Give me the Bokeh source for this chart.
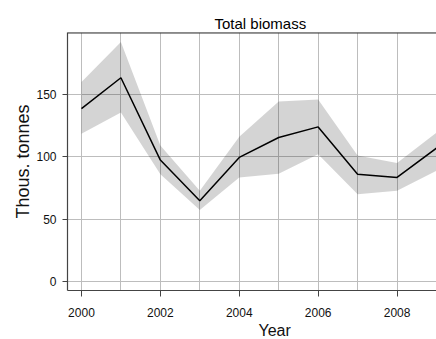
from bokeh.plotting import figure
from bokeh.models import Range1d, FixedTicker, Span, Title
from bokeh.embed import file_html
from bokeh.resources import INLINE

years = [2000, 2001, 2002, 2003, 2004, 2005, 2006, 2007, 2008, 2009]
biomass = [138.6, 163.4, 97.4, 64.8, 99.5, 115.5, 124.0, 86.0, 83.5, 107.0]
upper = [160.0, 192.0, 109.0, 72.8, 116.0, 144.3, 145.9, 101.0, 95.0, 119.5]
lower = [118.6, 135.5, 86.0, 57.3, 83.4, 86.5, 102.0, 70.0, 72.8, 88.8]

x_ticks = [2000, 2002, 2004, 2006, 2008]
y_ticks = [0, 50, 100, 150]
grid_years = [2000, 2001, 2002, 2003, 2004, 2005, 2006, 2007, 2008, 2009]
grid_levels = [0, 50, 100, 150, 200]

FONT = "Liberation Sans"

p = figure(width=436, height=339, output_backend="svg", toolbar_location=None,
           x_range=Range1d(1999.646, 2009.0), y_range=Range1d(-7.2, 199.7),
           min_border_left=67, min_border_right=0, min_border_top=32,
           min_border_bottom=49)

p.title.text = "Total biomass"
p.title.align = "left"
p.title.offset = 147
p.title.text_font = FONT
p.title.text_font_size = "15px"
p.title.text_font_style = "normal"
p.title.text_color = "#000000"
p.title.standoff = 2

p.outline_line_color = None
p.background_fill_color = "white"
p.border_fill_color = "white"

p.xgrid.ticker = FixedTicker(ticks=grid_years)
p.ygrid.ticker = FixedTicker(ticks=grid_levels)
p.grid.grid_line_color = "#bdbdbd"
p.grid.grid_line_width = 1

p.varea(x=years, y1=lower, y2=upper, fill_color="black", fill_alpha=0.17)
p.line(years, biomass, line_color="black", line_width=1.5)

p.add_layout(Span(location=199.7, dimension="width", line_color="#333333", line_width=2))

for ax in (p.xaxis[0], p.yaxis[0]):
    ax.axis_line_color = "#444444"
    ax.axis_line_width = 1.2
    ax.major_tick_line_color = "#444444"
    ax.major_tick_in = 0
    ax.minor_tick_line_color = None
    ax.major_label_text_font = FONT
    ax.major_label_text_font_size = "12px"
    ax.major_label_text_color = "#111111"

p.xaxis.ticker = FixedTicker(ticks=x_ticks)
p.xaxis.major_tick_out = 6
p.xaxis.major_label_standoff = 11

p.yaxis.ticker = FixedTicker(ticks=y_ticks)
p.yaxis.major_tick_out = 5
p.yaxis.major_label_standoff = 6
p.yaxis.axis_label = "Thous. tonnes"
p.yaxis.axis_label_text_font = FONT
p.yaxis.axis_label_text_font_size = "18px"
p.yaxis.axis_label_text_font_style = "normal"
p.yaxis.axis_label_text_color = "#111111"
p.yaxis.axis_label_standoff = 0

xlab = Title(text="Year", align="left", offset=191, standoff=0,
             text_font=FONT, text_font_size="16px", text_font_style="normal",
             text_color="#111111")
p.add_layout(xlab, "below")

open("out.html", "w").write(file_html(p, INLINE))
